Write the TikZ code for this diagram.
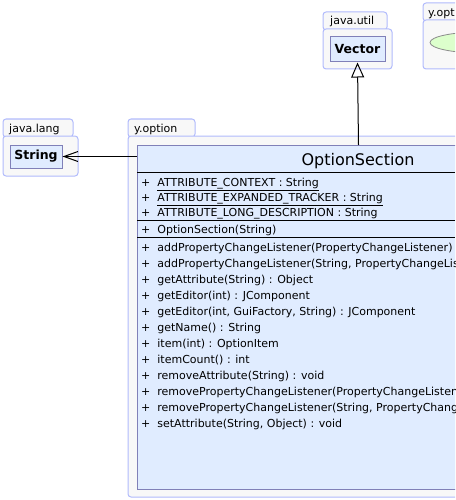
\documentclass[tikz,border=0pt]{standalone}
\usepackage{fontspec}
\setmainfont{DejaVu Sans}
\usetikzlibrary{arrows.meta,shapes.geometric}
\definecolor{pkgline}{RGB}{176,186,252}
\definecolor{pkgfill}{RGB}{248,248,248}
\definecolor{clsline}{RGB}{128,128,184}
\definecolor{clsfill}{RGB}{224,236,255}
\definecolor{enumfill}{RGB}{220,255,204}

\begin{document}
\begin{tikzpicture}[x=1pt,y=-1pt,
  pkg/.style={draw=pkgline,fill=pkgfill,line width=1pt,rounded corners=3pt},
  pkglabel/.style={anchor=base west,inner sep=0pt,font=\fontsize{11}{13}\selectfont},
  cls/.style={draw=clsline,fill=clsfill,line width=1pt,inner sep=0pt},
  member/.style={anchor=base west,inner sep=0pt,font=\fontsize{11}{13}\selectfont}]
\clip (0,0) rectangle (455,500);
% packages
\draw[pkg] (323,12) rectangle (387,30);
\draw[pkg] (323,29) rectangle (392,69);
\node[pkglabel] (utillabel) at (330,25) {java.util};
\draw[pkg] (423,3) rectangle (490,21);
\draw[pkg] (423,20) rectangle (520,69);
\node[pkglabel] (optlabel) at (428,17) {y.opt};
\draw[pkg] (3,119) rectangle (73,137);
\draw[pkg] (3,136) rectangle (78,176);
\node[pkglabel] (langlabel) at (9,132) {java.lang};
\draw[pkg] (128,119) rectangle (195,137);
\draw[pkg] (128,136) rectangle (520,497);
\node[pkglabel] (optionlabel) at (134,132) {y.option};
% classes
\node[draw=black!45,fill=enumfill,line width=0.8pt,ellipse,minimum width=100pt,minimum height=21pt] (enum) at (480,42.5) {};
\node[cls,minimum width=55pt,minimum height=25pt,font=\fontsize{12.5}{14}\selectfont\bfseries] (vector) at (357.5,49.5) {Vector};
\node[cls,minimum width=52pt,minimum height=23pt,font=\fontsize{12.5}{14}\selectfont\bfseries] (string) at (36,156.5) {String};
\node[cls,anchor=north west,minimum width=442pt,minimum height=344pt] (optsec) at (137,145) {};
\node[anchor=base,inner sep=0pt,font=\fontsize{16}{18}\selectfont] (title) at (358,165) {OptionSection};
\draw[line width=1pt] (137,172) -- (455,172);
\draw[line width=1pt] (137,220) -- (455,220);
\draw[line width=1pt] (137,237) -- (455,237);
% attributes
\node[member] (a1) at (141,186) {+\ \ \underline{ATTRIBUTE\_CONTEXT : String}};
\node[member] (a2) at (141,201) {+\ \ \underline{ATTRIBUTE\_EXPANDED\_TRACKER : String}};
\node[member] (a3) at (141,216) {+\ \ \underline{ATTRIBUTE\_LONG\_DESCRIPTION : String}};
% constructor
\node[member] (c1) at (141,233) {+\ \ OptionSection(String)};
% methods
\node[member] (m1) at (141,251) {+\ \ addPropertyChangeListener(PropertyChangeListener) : void};
\node[member] (m2) at (141,267) {+\ \ addPropertyChangeListener(String, PropertyChangeListener) : void};
\node[member] (m3) at (141,283) {+\ \ getAttribute(String) : Object};
\node[member] (m4) at (141,299) {+\ \ getEditor(int) : JComponent};
\node[member] (m5) at (141,315) {+\ \ getEditor(int, GuiFactory, String) : JComponent};
\node[member] (m6) at (141,331) {+\ \ getName() : String};
\node[member] (m7) at (141,347) {+\ \ item(int) : OptionItem};
\node[member] (m8) at (141,363) {+\ \ itemCount() : int};
\node[member] (m9) at (141,379) {+\ \ removeAttribute(String) : void};
\node[member] (m10) at (141,395) {+\ \ removePropertyChangeListener(PropertyChangeListener) : void};
\node[member] (m11) at (141,411) {+\ \ removePropertyChangeListener(String, PropertyChangeListener) : void};
\node[member] (m12) at (141,427) {+\ \ setAttribute(String, Object) : void};
% connectors
\draw[line width=1pt,-{Triangle[open,length=15pt,width=13pt]}] (optsec.north) -- (vector.south);
\draw[line width=1pt,-{Straight Barb[length=14pt,width=10pt]}] (optsec.west |- string.east) -- (string.east);
\end{tikzpicture}
\end{document}
